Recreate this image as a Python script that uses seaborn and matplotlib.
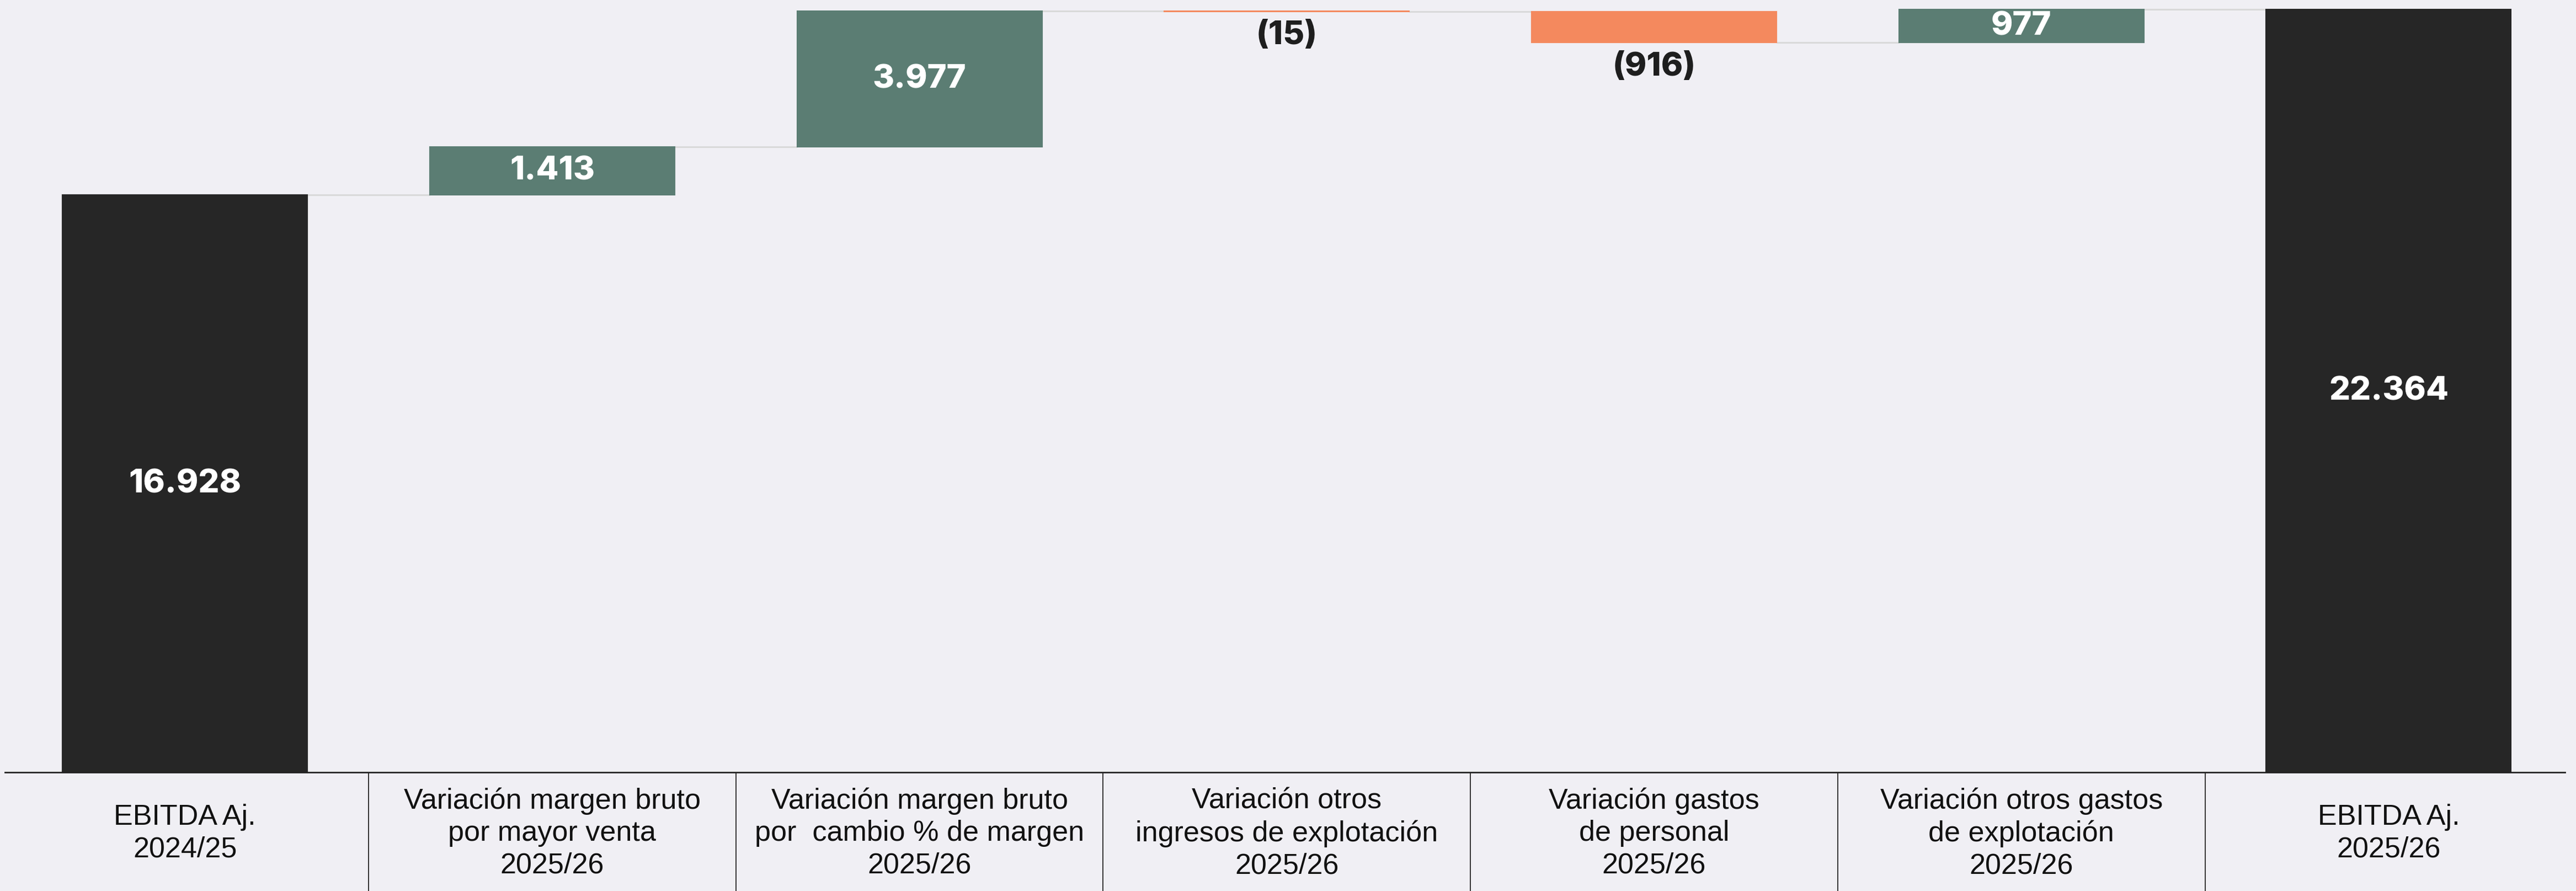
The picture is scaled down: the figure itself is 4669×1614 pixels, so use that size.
import numpy as np
import pandas as pd
import matplotlib
matplotlib.use("Agg")
import matplotlib.pyplot as plt
import seaborn as sns

# ---- data ----
categories = [
    "EBITDA Aj.\n2024/25",
    "Variación margen bruto\npor mayor venta\n2025/26",
    "Variación margen bruto\npor  cambio % de margen\n2025/26",
    "Variación otros\ningresos de explotación\n2025/26",
    "Variación gastos\nde personal\n2025/26",
    "Variación otros gastos\nde explotación\n2025/26",
    "EBITDA Aj.\n2025/26",
]
values = [16928, 1413, 3977, -15, -916, 977, 22364]
is_total = [True, False, False, False, False, False, True]

# ---- styling ----
BG = "#f0eff4"
C_TOTAL = "#262626"
C_UP = "#5b7d73"
C_DOWN = "#f4895e"
C_CONN = "#d9d9d9"

sns.set_theme(style="white")
plt.rcParams["font.family"] = ["Liberation Sans", "DejaVu Sans"]

# waterfall geometry derived from the values
bottoms, heights, colors, levels = [], [], [], []
cum = 0
for v, tot in zip(values, is_total):
    if tot:
        b, h = 0, v
        cum = v
        col = C_TOTAL
    else:
        start, end = cum, cum + v
        b, h = min(start, end), abs(v)
        cum = end
        col = C_UP if v >= 0 else C_DOWN
    bottoms.append(b)
    heights.append(h)
    colors.append(col)
    levels.append(cum)

def fmt(v):
    s = f"{abs(v):,}".replace(",", ".")
    return f"({s})" if v < 0 else s

df = pd.DataFrame({"cat": categories, "h": heights})

fig = plt.figure(figsize=(46.69, 16.15), dpi=100, facecolor=BG)
ax = fig.add_axes([9 / 4669, 215 / 1615, 4640 / 4669, 1400 / 1615])
ax.set_facecolor(BG)

W = 0.667
sns.barplot(data=df, x="cat", y="h", bottom=np.array(bottoms), color=C_TOTAL,
            width=W, errorbar=None, ax=ax, linewidth=1.5, saturation=1)
for p, c in zip(ax.patches, colors):
    p.set_facecolor(c)
    p.set_edgecolor(c)

# connectors
for i in range(len(values) - 1):
    ax.plot([i + W / 2, i + 1 - W / 2], [levels[i], levels[i]], color=C_CONN,
            lw=2.2, solid_capstyle="butt", zorder=0.5)

# value labels
VFONT = ["Inter", "DejaVu Sans"]
for i, v in enumerate(values):
    b, h = bottoms[i], heights[i]
    if is_total[i] or v >= 0:
        ax.text(i, b + h / 2, fmt(v), ha="center", va="center", color="white",
                fontsize=43, fontweight=800, family=VFONT, zorder=5)
    else:
        ax.annotate(fmt(v), xy=(i, b), xytext=(0, -11), textcoords="offset points",
                    ha="center", va="top", color="#1e1e1e", fontsize=43,
                    fontweight=800, family=VFONT, zorder=5)

ax.set_xlim(-0.49, 6.48)
ax.set_ylim(0, 22655)
ax.set_xlabel("")
ax.set_ylabel("")
ax.set_yticks([])
for s in ["left", "right", "top"]:
    ax.spines[s].set_visible(False)
ax.spines["bottom"].set_color("#222222")
ax.spines["bottom"].set_linewidth(2)

ax.set_xticks(range(len(categories)))
ax.set_xticklabels(categories, fontsize=37.5, color="#111111", linespacing=1.25)
for lab in ax.get_xticklabels():
    lab.set_va("center")
ax.tick_params(axis="x", which="major", length=0, pad=79, bottom=True)
ax.set_xticks(np.arange(len(categories) - 1) + 0.5, minor=True)
ax.tick_params(axis="x", which="minor", length=170, width=1.3, color="#222222",
               direction="out", bottom=True)

fig.savefig("out.png", dpi=100, facecolor=BG)
